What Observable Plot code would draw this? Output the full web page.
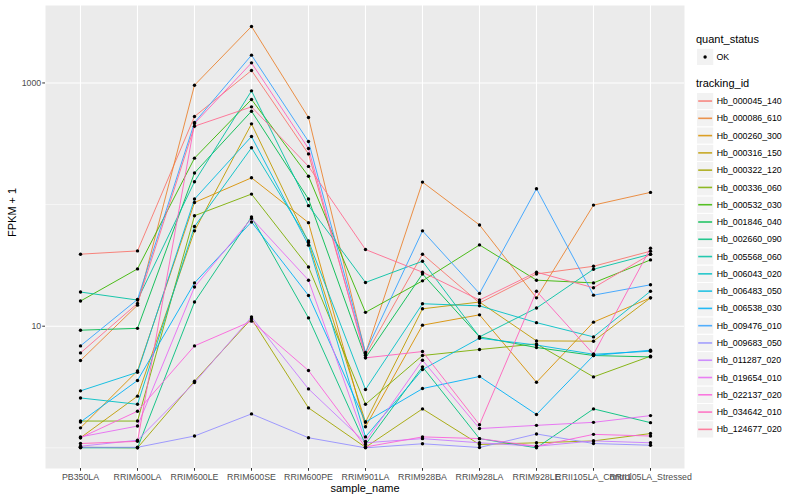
<!DOCTYPE html>
<html><head><meta charset="utf-8">
<script src="https://cdn.jsdelivr.net/npm/d3@7"></script>
<script src="https://cdn.jsdelivr.net/npm/@observablehq/plot@0.6"></script>
<style>
body{margin:0;background:#fff;font-family:"Liberation Sans",Arial,Helvetica,sans-serif;}
#wrap{position:relative;width:800px;height:500px;}
#legend{position:absolute;left:0;top:0;}
</style></head><body>
<div id="wrap"></div>
<script>
const samples = ["PB350LA","RRIM600LA","RRIM600LE","RRIM600SE","RRIM600PE","RRIM901LA","RRIM928BA","RRIM928LA","RRIM928LE","RRII105LA_Control","RRII105LA_Stressed"];
const trackingIds = ["Hb_000045_140","Hb_000086_610","Hb_000260_300","Hb_000316_150","Hb_000322_120","Hb_000336_060","Hb_000532_030","Hb_001846_040","Hb_002660_090","Hb_005568_060","Hb_006043_020","Hb_006483_050","Hb_006538_030","Hb_009476_010","Hb_009683_050","Hb_011287_020","Hb_019654_010","Hb_022137_020","Hb_034642_010","Hb_124677_020"];
const colors = ["#F8766D","#EA8331","#D89000","#C09B00","#A3A500","#7CAE00","#39B600","#00BB4E","#00BF7D","#00C1A3","#00BFC4","#00BAE0","#00B0F6","#35A2FF","#9590FF","#C77CFF","#E76BF3","#FA62DB","#FF62BC","#FF6C91"];
const quantStatus = ["OK"];

// FPKM + 1, one array per tracking_id, in sample order
const hb_000045_140 = [39.1, 41.6, 530, 1267, 261, 5.77, 39.1, 15.5, 26.9, 31.1, 41.4];
const hb_000086_610 = [5.22, 14.9, 959, 2915, 520, 5.96, 153, 68, 17.1, 99, 126];
const hb_000260_300 = [1.46, 4.29, 104, 166, 71, 1.49, 10.2, 12.4, 3.46, 10.8, 17.1];
const hb_000316_150 = [1.21, 2.66, 60.8, 461, 48.8, 1.63, 13.9, 15.8, 7.57, 7.53, 17.1];
const hb_000322_120 = [1.01, 1.0, 3.53, 11.5, 2.13, 1.01, 2.09, 1.065, 1.10, 1.14, 1.31];
const hb_000336_060 = [1.66, 1.66, 81, 122, 30.7, 2.28, 5.74, 6.43, 7.15, 3.83, 5.67];
const hb_000532_030 = [16.1, 29.6, 241, 732, 171, 13.0, 23.6, 46.6, 23.9, 22.7, 35.1];
const hb_001846_040 = [9.27, 9.6, 182, 586, 111, 5.5, 26.9, 8.17, 6.68, 5.74, 5.59];
const hb_002660_090 = [1.0, 1.0, 15.8, 79, 11.7, 1.065, 4.63, 1.19, 1.0, 2.09, 1.61];
const hb_005568_060 = [19.1, 16.4, 154, 861, 98, 22.9, 34.2, 8.17, 14.1, 29.4, 39.1];
const hb_006043_020 = [2.57, 2.28, 66, 293, 50.3, 3.02, 15.3, 14.7, 10.7, 8.17, 19.4];
const hb_006483_050 = [2.94, 4.18, 111, 363, 46.4, 1.23, 4.40, 7.97, 7.0, 5.88, 6.23];
const hb_006538_030 = [1.63, 3.58, 22.7, 72, 17.9, 1.63, 3.07, 3.86, 1.88, 5.74, 6.35];
const hb_009476_010 = [6.89, 16.6, 473, 1693, 330, 6.08, 60.8, 18.6, 135, 18.0, 21.9];
const hb_009683_050 = [1.01, 1.01, 1.25, 1.90, 1.21, 1.0, 1.08, 1.006, 1.30, 1.085, 1.05];
const hb_011287_020 = [1.03, 1.155, 3.44, 11.9, 3.05, 1.10, 1.19, 1.10, 1.03, 1.14, 1.10];
const hb_019654_010 = [1.23, 1.51, 21.0, 77, 23.9, 1.13, 5.25, 1.44, 1.53, 1.62, 1.84];
const hb_022137_020 = [1.21, 2.00, 6.89, 11.0, 4.32, 1.017, 1.23, 1.19, 1.03, 1.29, 1.25];
const hb_034642_010 = [1.085, 1.13, 464, 1463, 289, 5.49, 6.19, 1.55, 19.4, 5.88, 43.8];
const hb_124677_020 = [6.03, 15.4, 441, 636, 206, 42.7, 27.8, 16.4, 27.8, 20.7, 39.1];

const majorY = [10, 1000];
const minorY = [1, 100];

const seriesList = [hb_000045_140, hb_000086_610, hb_000260_300, hb_000316_150, hb_000322_120, hb_000336_060, hb_000532_030, hb_001846_040, hb_002660_090, hb_005568_060, hb_006043_020, hb_006483_050, hb_006538_030, hb_009476_010, hb_009683_050, hb_011287_020, hb_019654_010, hb_022137_020, hb_034642_010, hb_124677_020];

const data = [];
seriesList.forEach((vals, i) => vals.forEach((v, j) => data.push({id: trackingIds[i], sample: samples[j], value: v, status: quantStatus[0]})));

const font = "Liberation Sans, Arial, Helvetica, sans-serif";
const chart = Plot.plot({
  width: 800, height: 500,
  marginLeft: 45, marginRight: 116, marginTop: 5, marginBottom: 32,
  style: {fontFamily: font, background: "white", overflow: "visible"},
  x: {type: "point", domain: samples, padding: 0.6, label: null},
  y: {type: "log", domain: [0.676, 4335], label: null},
  color: {domain: trackingIds, range: colors},
  marks: [
    Plot.frame({fill: "#EBEBEB", stroke: null}),
    Plot.ruleY(minorY, {stroke: "white", strokeWidth: 0.55}),
    Plot.ruleY(majorY, {stroke: "white", strokeWidth: 1.1}),
    Plot.ruleX(samples, {x: d => d, stroke: "white", strokeWidth: 1.1}),
    Plot.line(data, {x: "sample", y: "value", z: "id", stroke: "id", strokeWidth: 0.9}),
    Plot.dot(data, {x: "sample", y: "value", r: 1.7, fill: "black", stroke: null}),
    Plot.axisY(majorY, {tickSize: 2.75, tickPadding: 1.5, tickFormat: d => String(d), fontSize: 8.8, fill: "#4D4D4D", stroke: "#333333", label: null}),
    Plot.axisX(samples, {tickSize: 2.75, tickPadding: 2, fontSize: 8.8, fill: "#4D4D4D", stroke: "#333333", label: null}),
    Plot.text(["FPKM + 1"], {frameAnchor: "left", dx: -33, rotate: -90, fontSize: 11, fill: "black"}),
    Plot.text(["sample_name"], {frameAnchor: "bottom", dy: 20, fontSize: 11, fill: "black", lineAnchor: "middle"})
  ]
});
const wrap = document.getElementById("wrap");
wrap.appendChild(chart);

// legend on the right
const svg = d3.select(wrap).append("svg").attr("id", "legend").attr("width", 800).attr("height", 500)
  .style("font-family", font);
svg.append("text").attr("x", 696).attr("y", 42.5).attr("font-size", 11).text("quant_status");
svg.append("rect").attr("x", 696.5).attr("y", 48.3).attr("width", 17.3).attr("height", 17.3).attr("fill", "#F2F2F2").attr("stroke", "white");
svg.append("circle").attr("cx", 705.1).attr("cy", 57).attr("r", 1.7).attr("fill", "black");
svg.append("text").attr("x", 716.5).attr("y", 57).attr("dy", "0.35em").attr("font-size", 8.8).text(quantStatus[0]);
svg.append("text").attr("x", 696).attr("y", 86.5).attr("font-size", 11).text("tracking_id");
trackingIds.forEach((id, i) => {
  const y0 = 92.4 + i * 17.28;
  svg.append("rect").attr("x", 696.5).attr("y", y0).attr("width", 17.3).attr("height", 17.28).attr("fill", "#F2F2F2").attr("stroke", "white");
  svg.append("line").attr("x1", 698.2).attr("x2", 712.1).attr("y1", y0 + 8.64).attr("y2", y0 + 8.64)
    .attr("stroke", colors[i]).attr("stroke-width", 1.6).attr("stroke-opacity", 0.85);
  svg.append("text").attr("x", 716.7).attr("y", y0 + 8.64).attr("dy", "0.35em").attr("font-size", 8.8).text(id);
});
</script>
</body></html>
